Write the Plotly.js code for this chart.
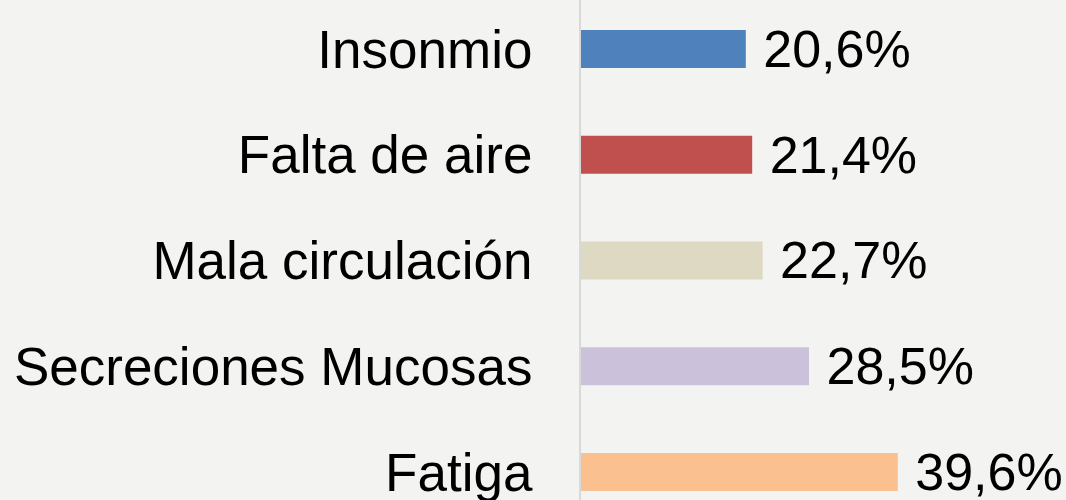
<!DOCTYPE html>
<html>
<head>
<meta charset="utf-8">
<script src="https://cdn.plot.ly/plotly-3.0.1.min.js"></script>
<style>html,body{margin:0;padding:0;background:#f3f3f1;}</style>
</head>
<body>
<div id="chart" style="width:1066px;height:500px;"></div>
<script>
const categories = ["Insonmio", "Falta de aire", "Mala circulación", "Secreciones Mucosas", "Fatiga"];
const values = [20.6, 21.4, 22.7, 28.5, 39.6];
const colors = ["#4f81bd", "#c0504d", "#ddd9c3", "#ccc1da", "#fac090"];

const trace = {
  type: "bar",
  orientation: "h",
  y: categories,
  x: values,
  width: 0.36,
  marker: {color: colors},
  text: values.map(v => "\u00a0" + v.toFixed(1).replace(".", ",") + "%"),
  textposition: "outside",
  constraintext: "none",
  textfont: {family: "Liberation Sans, Arial, sans-serif", size: 52, color: "#000000"},
  cliponaxis: false,
  hoverinfo: "none"
};

const layout = {
  width: 1066,
  height: 500,
  margin: {l: 581, r: 0, t: 0, b: 0, pad: 0},
  paper_bgcolor: "#f3f3f1",
  plot_bgcolor: "#f3f3f1",
  showlegend: false,
  separators: ",.",
  font: {family: "Liberation Sans, Arial, sans-serif", size: 52, color: "#000000"},
  xaxis: {
    range: [0, 60.625],
    showgrid: false,
    zeroline: false,
    showticklabels: false,
    showline: false,
    fixedrange: true
  },
  yaxis: {
    type: "category",
    range: [4.265, -0.463],
    showgrid: false,
    zeroline: false,
    showline: true,
    linecolor: "#d9d9d9",
    linewidth: 2,
    ticks: "",
    ticklabelstandoff: 36,
    tickfont: {family: "Liberation Sans, Arial, sans-serif", size: 53, color: "#000000"},
    fixedrange: true
  }
};

Plotly.newPlot("chart", [trace], layout, {displayModeBar: false, staticPlot: true});
</script>
</body>
</html>
